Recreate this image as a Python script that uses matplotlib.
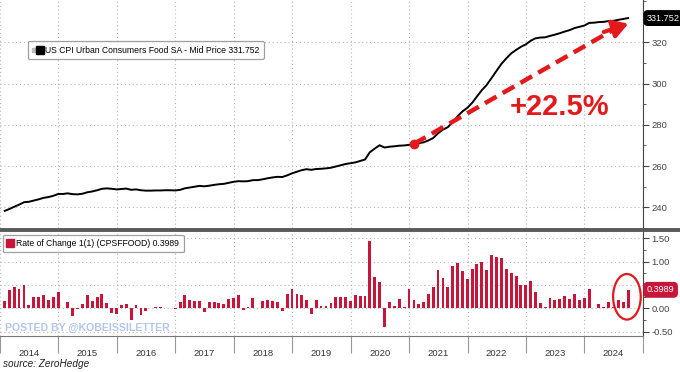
import numpy as np
import pandas as pd
import matplotlib
matplotlib.use("Agg")
import matplotlib.pyplot as plt
import matplotlib.transforms as mtrans
from matplotlib.patches import Ellipse
from matplotlib.lines import Line2D

# US CPI urban consumers food SA, monthly (Jan 2014 .. Sep 2024)
cpi_food = [
    238.3, 239.2, 240.3, 241.3, 242.5, 242.7, 243.3, 243.9, 244.6, 245.0, 245.6, 246.5,
    246.5, 246.8, 246.4, 246.3, 246.6, 247.3, 247.7, 248.3, 249.0, 249.2, 249.0, 248.7,
    248.9, 249.1, 248.5, 248.7, 248.3, 248.1, 248.1, 248.2, 248.2, 248.3, 248.3, 248.2,
    248.5, 249.2, 249.6, 250.0, 250.4, 250.2, 250.5, 250.9, 251.2, 251.4, 251.9, 252.4,
    252.7, 252.6, 252.7, 253.2, 253.2, 253.6, 254.1, 254.5, 254.8, 254.7, 255.5, 256.5,
    257.3, 258.0, 258.5, 258.2, 258.6, 258.7, 258.9, 259.2, 259.8, 260.4, 261.0, 261.4,
    261.8, 262.5, 263.2, 266.7, 268.5, 270.1, 269.0, 269.4, 269.6, 269.9, 270.0, 270.3,
    270.8, 271.1, 271.5, 272.4, 273.6, 275.9, 277.7, 278.9, 281.4, 284.2, 286.5, 288.3,
    290.8, 293.7, 296.8, 299.3, 302.7, 306.1, 309.5, 312.2, 314.6, 316.3, 317.8, 319.0,
    320.8, 321.9, 322.3, 322.4, 323.1, 323.7, 324.4, 325.2, 325.9, 326.9, 327.5, 328.1,
    329.4, 329.5, 329.8, 329.9, 330.3, 330.4, 330.9, 331.3, 331.752,
]

# month over month rate of change (%)
rate_of_change = [
    0.15, 0.40, 0.47, 0.41, 0.50, 0.07, 0.25, 0.25, 0.29, 0.18, 0.24, 0.36,
    0.01, 0.13, -0.17, -0.01, 0.10, 0.29, 0.17, 0.24, 0.31, 0.12, -0.09, -0.12,
    0.07, 0.10, -0.24, 0.07, -0.14, -0.06, 0.00, 0.04, 0.03, 0.02, 0.00, -0.01,
    0.14, 0.29, 0.18, 0.16, 0.16, -0.07, 0.14, 0.14, 0.11, 0.09, 0.20, 0.22,
    0.29, -0.04, 0.04, 0.22, 0.01, 0.17, 0.18, 0.16, 0.14, -0.05, 0.30, 0.41,
    0.30, 0.29, 0.18, -0.12, 0.18, 0.05, 0.05, 0.11, 0.24, 0.25, 0.24, 0.17,
    0.29, 0.27, 0.27, 1.45, 0.68, 0.57, -0.40, 0.14, 0.05, 0.21, 0.03, 0.42,
    0.19, 0.10, 0.14, 0.32, 0.45, 0.82, 0.65, 0.45, 0.91, 0.98, 0.81, 0.63,
    0.85, 0.96, 1.00, 0.82, 1.14, 1.10, 1.09, 0.85, 0.75, 0.70, 0.51, 0.50,
    0.58, 0.35, 0.12, 0.04, 0.23, 0.19, 0.21, 0.26, 0.21, 0.32, 0.19, 0.22,
    0.41, 0.02, 0.10, 0.03, 0.14, 0.03, 0.18, 0.13, 0.3989,
]

years = list(range(2014, 2025))
top_ticks = [240, 260, 280, 300, 320]
bottom_ticks = [-0.5, 0.0, 0.5, 1.0, 1.5]

dates = pd.date_range("2014-01-31", periods=len(cpi_food), freq="ME")
start_idx = 84  # Jan 2021
arrow_end = (pd.Timestamp("2024-10-01"), 329.0)

RED = "#e3191c"
BAR = "#c8163a"
GRID = "#b8b8b8"
plt.rcParams["font.family"] = ["Liberation Sans", "DejaVu Sans"]

fig = plt.figure(figsize=(6.8, 3.72), dpi=100)
ax1 = fig.add_axes([0, 1 - 228 / 372, 643 / 680, 228 / 372])
ax2 = fig.add_axes([0, 1 - 336 / 372, 643 / 680, 106 / 372])

xmin, xmax = pd.Timestamp("2014-02-07"), pd.Timestamp("2025-01-01")
year_starts = [pd.Timestamp(f"{y}-01-01") for y in range(2014, 2026)]

for ax in (ax1, ax2):
    ax.set_xlim(xmin, xmax)
    ax.set_xticks(year_starts)
    ax.yaxis.tick_right()
    ax.spines["left"].set_visible(False)
    ax.spines["top"].set_visible(False)
    ax.spines["right"].set_color("#444444")
    ax.grid(True, which="major", ls=(0, (1, 2.5)), color=GRID, lw=0.8)
    ax.tick_params(axis="y", which="both", direction="out", colors="#444444",
                   labelsize=6.8, pad=2, length=4)
    ax.tick_params(axis="y", which="minor", length=2)
    ax.set_axisbelow(True)

# top panel
ax1.plot(dates, cpi_food, color="black", lw=1.4, zorder=3)
ax1.set_ylim(230, 340.5)
ax1.set_yticks(top_ticks)
ax1.set_yticks(np.arange(230, 341, 10), minor=True)
ax1.tick_params(axis="x", length=0, labelbottom=False)
ax1.spines["bottom"].set_visible(False)

# panel separator runs across the full width
fig.add_artist(Line2D([0, 1], [1 - 229.5 / 372] * 2, transform=fig.transFigure,
                      color="#5a5a5a", lw=2.8))

# dashed red arrow from Jan 2021
x0, y0 = dates[start_idx], cpi_food[start_idx]
ax1.plot([x0, pd.Timestamp("2024-07-20")], [y0, 327.0], color=RED, lw=3.2,
         ls=(0, (3, 1.6)), zorder=4, solid_capstyle="butt")
ax1.annotate("", xy=arrow_end, xytext=(pd.Timestamp("2024-05-01"), 325.0),
             arrowprops=dict(arrowstyle="-|>,head_length=0.9,head_width=0.55",
                             color=RED, lw=3, shrinkA=0, shrinkB=0), zorder=4)
ax1.plot(x0, y0, "o", color=RED, ms=6, zorder=5)
ax1.text(pd.Timestamp("2023-08-01"), 288.5, "+22.5%", color=RED, fontsize=21,
         fontweight="bold", ha="center", va="center", zorder=5)

leg1 = ax1.legend([(Line2D([], [], marker="s", color="#bbbbbb", ls="none", ms=3),
                    Line2D([], [], marker="s", color="black", ls="none", ms=6))],
                  ["US CPI Urban Consumers Food SA - Mid Price 331.752"],
                  handler_map={tuple: matplotlib.legend_handler.HandlerTuple(ndivide=None, pad=0.1)},
                  loc="upper left", bbox_to_anchor=(0.043, 0.818), fontsize=6.2,
                  frameon=True, fancybox=True, handlelength=1.2, handletextpad=0.3,
                  borderpad=0.5, borderaxespad=0)
leg1.get_frame().set_edgecolor("#888888")
leg1.get_frame().set_linewidth(0.9)

tr1 = mtrans.blended_transform_factory(ax1.transAxes, ax1.transData)
ax1.text(1.006, cpi_food[-1], "331.752", transform=tr1, color="white", fontsize=6.6,
         ha="left", va="center", clip_on=False,
         bbox=dict(boxstyle="round,pad=0.3,rounding_size=0.4", fc="black", ec="black"))

# bottom panel
ax2.bar(dates, rate_of_change, width=18, color=BAR, zorder=3)
ax2.set_ylim(-0.59, 1.68)
ax2.set_yticks(bottom_ticks)
ax2.set_yticks(np.arange(-0.5, 1.6, 0.25), minor=True)
ax2.yaxis.set_major_formatter(matplotlib.ticker.FormatStrFormatter("%.2f"))
ax2.spines["bottom"].set_color("#777777")
ax2.tick_params(axis="x", which="major", length=12, color="#999999", labelbottom=False,
                direction="out")
ax2.set_xticks([pd.Timestamp(f"{y}-07-01") for y in years], minor=True)
ax2.set_xticklabels([str(y) for y in years], minor=True)
ax2.tick_params(axis="x", which="minor", length=0, labelsize=6.8, pad=9,
                colors="#333333")

leg2 = ax2.legend([Line2D([], [], marker="s", color=BAR, ls="none", ms=6)],
                  ["Rate of Change 1(1) (CPSFFOOD) 0.3989"],
                  loc="upper left", bbox_to_anchor=(0.004, 0.955), fontsize=6.2,
                  frameon=True, fancybox=True, handlelength=0.8, handletextpad=0.3,
                  borderpad=0.5, borderaxespad=0)
leg2.get_frame().set_edgecolor("#888888")
leg2.get_frame().set_linewidth(0.9)

tr2 = mtrans.blended_transform_factory(ax2.transAxes, ax2.transData)
ax2.text(1.006, rate_of_change[-1], "0.3989", transform=tr2, color="white",
         fontsize=6.6, ha="left", va="center", clip_on=False, zorder=6,
         bbox=dict(boxstyle="round,pad=0.3,rounding_size=0.4", fc=BAR, ec=BAR))

ax2.add_patch(Ellipse((0.975, 0.37), 0.043, 0.43, transform=ax2.transAxes,
                      fill=False, ec=RED, lw=1.6, clip_on=False, zorder=5))

ax2.text(0.008, 0.08, "POSTED BY @KOBEISSILETTER", transform=ax2.transAxes,
         color="#b3c6ef", fontsize=7.6, fontweight="bold", ha="left", va="center",
         zorder=6)

fig.text(0.004, 0.022, "source: ZeroHedge", fontsize=7.2, style="italic",
         color="#222222", ha="left", va="center")

fig.savefig("out.png", dpi=100)
